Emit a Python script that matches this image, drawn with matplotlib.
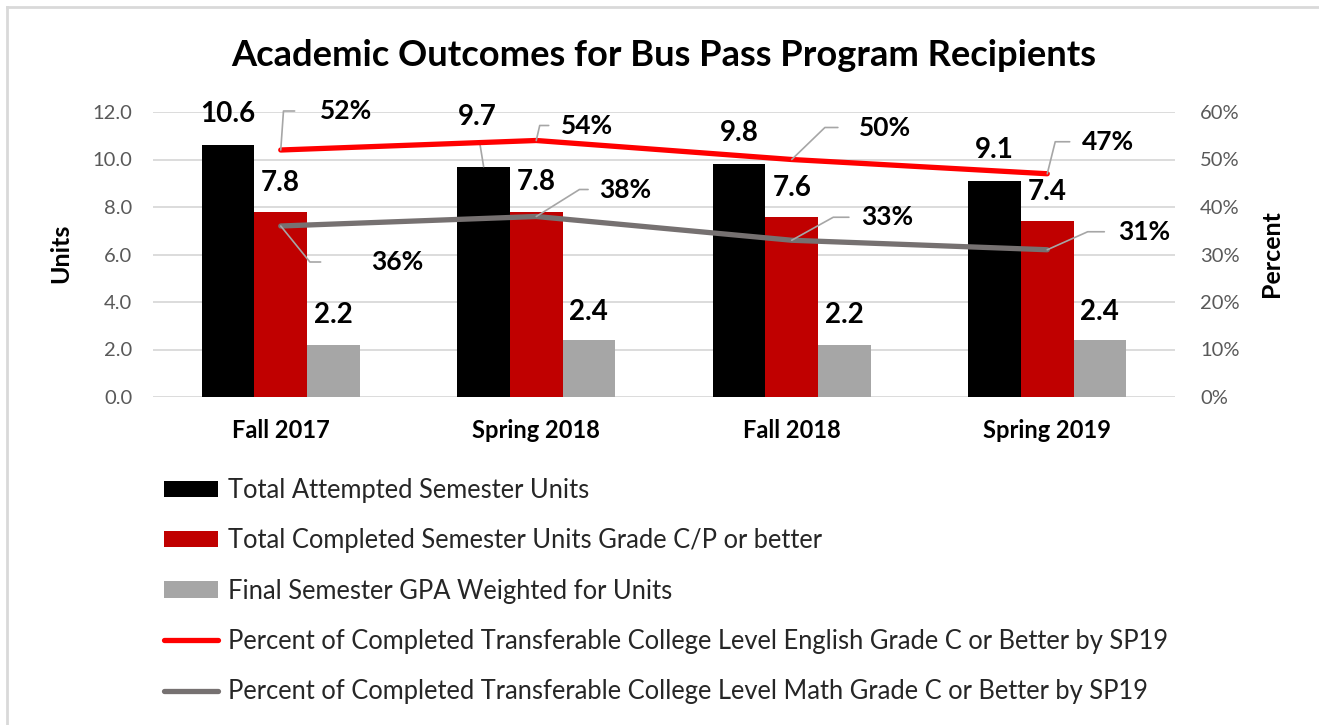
import numpy as np
import matplotlib
matplotlib.use('Agg')
import matplotlib.pyplot as plt
from matplotlib.ticker import FuncFormatter, PercentFormatter

plt.rcParams['font.family'] = ['Lato', 'DejaVu Sans']

# data
terms = ['Fall 2017', 'Spring 2018', 'Fall 2018', 'Spring 2019']
attempted = [10.6, 9.7, 9.8, 9.1]
completed = [7.8, 7.8, 7.6, 7.4]
gpa = [2.2, 2.4, 2.2, 2.4]
english_pct = [0.52, 0.54, 0.50, 0.47]
math_pct = [0.36, 0.38, 0.33, 0.31]

series_names = ['Total Attempted Semester Units',
                'Total Completed Semester Units Grade C/P or better',
                'Final Semester GPA Weighted for Units',
                'Percent of Completed Transferable College Level English Grade C or Better by SP19',
                'Percent of Completed Transferable College Level Math Grade C or Better by SP19']

# label placement (pixel offsets from the point) - hand tuned
bar_label_off = [
    [(0, 31), (-6, 50), (0, 31), (0, 31)],
    [(0, 29), (0, 30), (0, 28), (0, 29)],
    [(0, 30), (0, 28), (0, 30), (0, 28)],
]
eng_off = [(65, 39), (51, 15), (93, 32), (61, 32)]
eng_angle = [86, 77, 44, 76]
eng_shrink = [16, 7, 13, 7]
math_off = [(116, -36), (89, 27), (95, 23), (97, 18)]
math_angle = [129, 32, 29, 24]
math_shrink = [34, 6, 6.5, 8]

bar_colors = ['#000000', '#C00000', '#A6A6A6']
W, H = 1319, 725
fig = plt.figure(figsize=(W / 100, H / 100), dpi=100)
ax = fig.add_axes([153 / W, 1 - 397 / H, (1175 - 153) / W, (397 - 112) / H])
ax2 = ax.twinx()

x = np.arange(len(terms))
bw = 0.206
bars = []
for i, (vals, c) in enumerate(zip([attempted, completed, gpa], bar_colors)):
    b = ax.bar(x + (i - 1) * bw, vals, bw, color=c, zorder=2, label=series_names[i])
    bars.append(b)
    for j, v in enumerate(vals):
        dx, dy = bar_label_off[i][j]
        kw = {}
        if dy > 40:
            kw['arrowprops'] = dict(arrowstyle='-', color='#a6a6a6', lw=1.2,
                                    relpos=(0.5, 0), shrinkA=8, shrinkB=0)
        ax.annotate(f'{v:.1f}', xy=(x[j] + (i - 1) * bw, v), xytext=(dx, dy),
                    textcoords='offset pixels', ha='center', va='center',
                    fontsize=20, fontweight='bold', color='#000000', zorder=5, **kw)

ax.set_xlim(-0.5, len(terms) - 0.5)
ax.set_ylim(0, 12)
ax.set_yticks(np.arange(0, 12.1, 2))
ax.yaxis.set_major_formatter(FuncFormatter(lambda v, p: f'{v:.1f}'))
ax.set_xticks(x)
ax.set_xticklabels(terms, fontweight='bold', fontsize=17)
ax.grid(axis='y', color='#d9d9d9', lw=1.3, zorder=0)
ax.set_axisbelow(True)
for s in ax.spines.values():
    s.set_visible(False)
for s in ax2.spines.values():
    s.set_visible(False)
ax.tick_params(axis='y', length=0, pad=15, labelsize=14.5, labelcolor='#595959')
ax.tick_params(axis='x', length=0, pad=16)

l1, = ax2.plot(x, english_pct, color='#FF0000', lw=3.8, solid_capstyle='round',
               zorder=3, label=series_names[3])
l2, = ax2.plot(x, math_pct, color='#767171', lw=3.8, solid_capstyle='round',
               zorder=3, label=series_names[4])
ax2.set_ylim(0, 0.6)
ax2.set_yticks(np.arange(0, 0.61, 0.1))
ax2.yaxis.set_major_formatter(PercentFormatter(1.0, decimals=0))
ax2.tick_params(axis='y', length=0, pad=18, labelsize=14.5, labelcolor='#595959')

for vals, offs, angs, shr in [(english_pct, eng_off, eng_angle, eng_shrink),
                              (math_pct, math_off, math_angle, math_shrink)]:
    for j, v in enumerate(vals):
        ax2.annotate(f'{v:.0%}', xy=(x[j], v), xytext=offs[j], textcoords='offset pixels',
                     ha='center', va='center', fontsize=19, fontweight='bold', zorder=6,
                     arrowprops=dict(arrowstyle='-', color='#a6a6a6', lw=1.2,
                                     relpos=(0, 0.5), shrinkA=shr[j], shrinkB=0,
                                     connectionstyle=f'angle,angleA=0,angleB={angs[j]},rad=0'))

ax.set_ylabel('Units', fontsize=18, fontweight='bold')
ax.yaxis.set_label_coords(-0.079, 0.505)
ax2.set_ylabel('Percent', fontsize=18, fontweight='bold', rotation=90)
ax2.yaxis.set_label_coords(1.083, 0.505)

fig.text(664 / W, 1 - 55 / H, 'Academic Outcomes for Bus Pass Program Recipients',
         ha='center', va='center', fontsize=26.1, fontweight='bold')

fig.legend(handles=bars + [l1, l2], loc='upper left', bbox_to_anchor=(164 / W, 1 - 478 / H),
           frameon=False, fontsize=18.4, handlelength=2.1, handleheight=0.6,
           handletextpad=0.4, labelspacing=0.99, borderpad=0, borderaxespad=0,
           labelcolor='#262626')

# chart border (top and left edges visible)
fig.add_artist(plt.Line2D([7 / W, 1], [1 - 7 / H, 1 - 7 / H], color='#d9d9d9', lw=2))
fig.add_artist(plt.Line2D([7 / W, 7 / W], [0, 1 - 7 / H], color='#d9d9d9', lw=2))

fig.savefig('out.png', dpi=100, facecolor='white')
